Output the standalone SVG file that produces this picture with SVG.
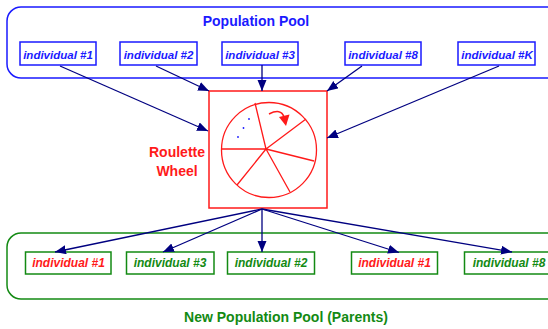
<svg xmlns="http://www.w3.org/2000/svg" width="548" height="329" viewBox="0 0 548 329">
<defs>
<marker id="ah" markerUnits="userSpaceOnUse" markerWidth="12" markerHeight="10" refX="11" refY="4.5" orient="auto">
<path d="M0,0 L11,4.5 L0,9 z" fill="#000080"/>
</marker>
</defs>
<style>
.pool1{fill:none;stroke:#1a1aff;stroke-width:1.5}
.pool2{fill:none;stroke:#138a13;stroke-width:1.5}
.b1{fill:#fff;stroke:#1a1aff;stroke-width:1.5}
.b2{fill:#fff;stroke:#138a13;stroke-width:1.5}
.t{font-family:"Liberation Sans",Arial,sans-serif;font-weight:bold}
.it{font-family:"Liberation Sans",Arial,sans-serif;font-weight:bold;font-style:italic;text-anchor:middle}
.blue{fill:#1a1aff}
.green{fill:#138a13}
.red{fill:#ff1a1a}
.c{stroke:#000080;stroke-width:1.3;fill:none;marker-end:url(#ah)}
.w{stroke:#ff1a1a;stroke-width:1.3;fill:none}
</style>
<rect x="0" y="0" width="548" height="329" fill="#fff"/>
<g id="population-pool">
<rect class="pool1" x="7" y="7" width="560" height="71" rx="14"/>
<text class="t blue" x="256" y="26" font-size="14" text-anchor="middle">Population Pool</text>
</g>
<g id="top-ind1"><rect class="b1" x="20" y="42" width="76" height="23"/><text class="it blue" x="58" y="58.5" font-size="11.5">individual #1</text></g>
<g id="top-ind2"><rect class="b1" x="120" y="42" width="77" height="23"/><text class="it blue" x="158.5" y="58.5" font-size="11.5">individual #2</text></g>
<g id="top-ind3"><rect class="b1" x="222" y="42" width="76" height="23"/><text class="it blue" x="260" y="58.5" font-size="11.5">individual #3</text></g>
<g id="top-ind8"><rect class="b1" x="345" y="42" width="76" height="23"/><text class="it blue" x="383" y="58.5" font-size="11.5">individual #8</text></g>
<g id="top-indK"><rect class="b1" x="458" y="42" width="77" height="23"/><text class="it blue" x="497" y="58.5" font-size="11.5">individual #K</text></g>
<g id="roulette-wheel">
<rect x="209" y="91" width="118" height="117" fill="#fff" stroke="#ff1a1a" stroke-width="1.5"/>
<circle class="w" cx="269" cy="150" r="47.5"/>
<path class="w" d="M266,149 L255,103 M266,149 L306,119 M266,149 L314,161 M266,149 L290,192 M266,149 L237,185 M266,149 L221.5,149"/>
<path d="M269,114 Q281,108 284,117" stroke="#ff1a1a" stroke-width="1.5" fill="none"/>
<polygon points="279,117 289.5,114.5 286,126" fill="#ff1a1a"/>
<circle cx="249" cy="119" r="0.9" fill="#1a1aff"/>
<circle cx="243.5" cy="128" r="0.9" fill="#1a1aff"/>
<circle cx="238" cy="137" r="0.9" fill="#1a1aff"/>
<text class="t red" x="177" y="157" font-size="14" text-anchor="middle">Roulette</text>
<text class="t red" x="177" y="176" font-size="14" text-anchor="middle">Wheel</text>
</g>
<g id="new-population-pool">
<rect class="pool2" x="7" y="233" width="560" height="66" rx="14"/>
<text class="t green" x="286" y="322" font-size="14" text-anchor="middle">New Population Pool (Parents)</text>
</g>
<g id="new-ind1"><rect class="b2" x="25.5" y="252" width="85.5" height="22"/><text class="it red" x="68.5" y="267" font-size="12">individual #1</text></g>
<g id="new-ind3"><rect class="b2" x="126.5" y="252" width="87.5" height="22"/><text class="it green" x="170" y="267" font-size="12">individual #3</text></g>
<g id="new-ind2"><rect class="b2" x="227.5" y="252" width="87" height="22"/><text class="it green" x="271" y="267" font-size="12">individual #2</text></g>
<g id="new-ind1b"><rect class="b2" x="351.5" y="252" width="86" height="22"/><text class="it red" x="394.5" y="267" font-size="12">individual #1</text></g>
<g id="new-ind8"><rect class="b2" x="464.5" y="252" width="86" height="22"/><text class="it green" x="509" y="267" font-size="12">individual #8</text></g>
<g id="connectors">
<path class="c" d="M60,66 L208,131"/>
<path class="c" d="M156,66 L209,91"/>
<path class="c" d="M262,65 L262,91"/>
<path class="c" d="M362,66 L327,91"/>
<path class="c" d="M499,66 L327,138"/>
<path class="c" d="M262,209 L55,252"/>
<path class="c" d="M262,209 L163,252"/>
<path class="c" d="M262,209 L262,252"/>
<path class="c" d="M262,209 L399,252.5"/>
<path class="c" d="M262,209 L512,252"/>
</g>
</svg>
